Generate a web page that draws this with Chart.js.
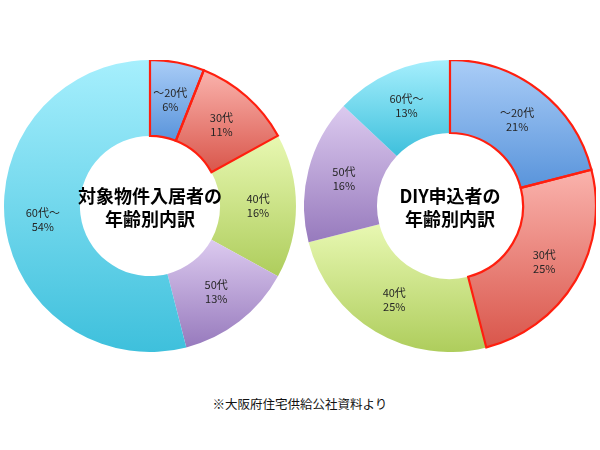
<!DOCTYPE html>
<html><head><meta charset="utf-8">
<script src="https://cdn.jsdelivr.net/npm/chart.js@4/dist/chart.umd.min.js"></script>
<style>
html,body{margin:0;padding:0;background:#fff;width:600px;height:450px;overflow:hidden;}
canvas{position:absolute;}
#note{position:absolute;left:0;width:600px;top:394px;text-align:center;font-family:"Noto Sans CJK JP";font-size:12.5px;color:#111;}
</style></head>
<body>
<canvas id="c1" width="292" height="292" style="left:4px;top:60px;width:292px;height:292px"></canvas>
<canvas id="c2" width="292" height="292" style="left:304px;top:60px;width:292px;height:292px"></canvas>
<div id="note">※大阪府住宅供給公社資料より</div>
<script>
const categories = ['～20代', '30代', '40代', '50代', '60代～'];
const residentValues = [6, 11, 16, 13, 54];
const diyValues = [21, 25, 25, 16, 13];
const residentTitle = ['対象物件入居者の', '年齢別内訳'];
const diyTitle = ['DIY申込者の', '年齢別内訳'];
const highlighted = [0, 1];

const gradTop = ['#aacdf7', '#fab3ad', '#e8f8b2', '#dccaef', '#a6effd'];
const gradBot = ['#5994db', '#d9564b', '#aecd5c', '#977abd', '#3ec0dc'];

function sliceGradient(ctx, cutoutFrac) {
  const chart = ctx.chart;
  const area = chart.chartArea;
  if (!area) return gradTop[ctx.dataIndex];
  const data = ctx.dataset.data;
  const total = data.reduce((a, b) => a + b, 0);
  let cum = 0;
  for (let k = 0; k < ctx.dataIndex; k++) cum += data[k];
  const a0 = -Math.PI / 2 + 2 * Math.PI * cum / total;
  const a1 = -Math.PI / 2 + 2 * Math.PI * (cum + data[ctx.dataIndex]) / total;
  const cy = (area.top + area.bottom) / 2;
  const R = Math.min(area.right - area.left, area.bottom - area.top) / 2;
  const r = R * cutoutFrac;
  let ymin = Infinity, ymax = -Infinity;
  for (let s = 0; s <= 60; s++) {
    const a = a0 + (a1 - a0) * s / 60;
    for (const rr of [r, R]) {
      const y = cy + rr * Math.sin(a);
      ymin = Math.min(ymin, y); ymax = Math.max(ymax, y);
    }
  }
  const g = chart.ctx.createLinearGradient(0, ymin, 0, ymax);
  g.addColorStop(0, gradTop[ctx.dataIndex]);
  g.addColorStop(1, gradBot[ctx.dataIndex]);
  return g;
}

const overlayPlugin = {
  id: 'overlay',
  afterDatasetsDraw(chart, args, opts) {
    const c = chart.ctx;
    const meta = chart.getDatasetMeta(0);
    // red borders for highlighted slices
    c.save();
    c.strokeStyle = '#ff1f0f';
    c.lineWidth = 2.2;
    c.lineJoin = 'miter';
    highlighted.forEach(i => {
      const el = meta.data[i];
      const p = el.getProps(['x', 'y', 'startAngle', 'endAngle', 'innerRadius', 'outerRadius'], true);
      c.beginPath();
      c.arc(p.x, p.y, p.outerRadius, p.startAngle, p.endAngle);
      c.arc(p.x, p.y, p.innerRadius, p.endAngle, p.startAngle, true);
      c.closePath();
      c.stroke();
    });
    c.restore();
    // slice labels
    c.save();
    c.fillStyle = '#262626';
    c.font = '11px "Noto Sans CJK JP"';
    c.textAlign = 'center';
    c.textBaseline = 'middle';
    const data = chart.data.datasets[0].data;
    meta.data.forEach((el, i) => {
      const pt = el.getCenterPoint();
      c.fillText(chart.data.labels[i], pt.x, pt.y - 7);
      c.fillText(data[i] + '%', pt.x, pt.y + 7);
    });
    c.restore();
    // center title
    const el0 = meta.data[0];
    c.save();
    c.fillStyle = '#000';
    c.font = 'bold 18px "Noto Sans CJK JP"';
    c.textAlign = 'center';
    c.textBaseline = 'middle';
    const lines = opts.title;
    c.fillText(lines[0], el0.x, el0.y - 10);
    c.fillText(lines[1], el0.x, el0.y + 13);
    c.restore();
  }
};

function makeChart(id, values, title, cutoutFrac) {
  return new Chart(document.getElementById(id), {
    type: 'doughnut',
    data: {
      labels: categories,
      datasets: [{
        data: values,
        backgroundColor: ctx => sliceGradient(ctx, cutoutFrac),
        borderWidth: 0
      }]
    },
    options: {
      responsive: false,
      animation: false,
      cutout: (cutoutFrac * 100) + '%',
      layout: { padding: 0 },
      plugins: {
        legend: { display: false },
        tooltip: { enabled: false },
        overlay: { title: title }
      }
    },
    plugins: [overlayPlugin]
  });
}

makeChart('c1', residentValues, residentTitle, 0.48);
makeChart('c2', diyValues, diyTitle, 0.5);
</script>
</body></html>
